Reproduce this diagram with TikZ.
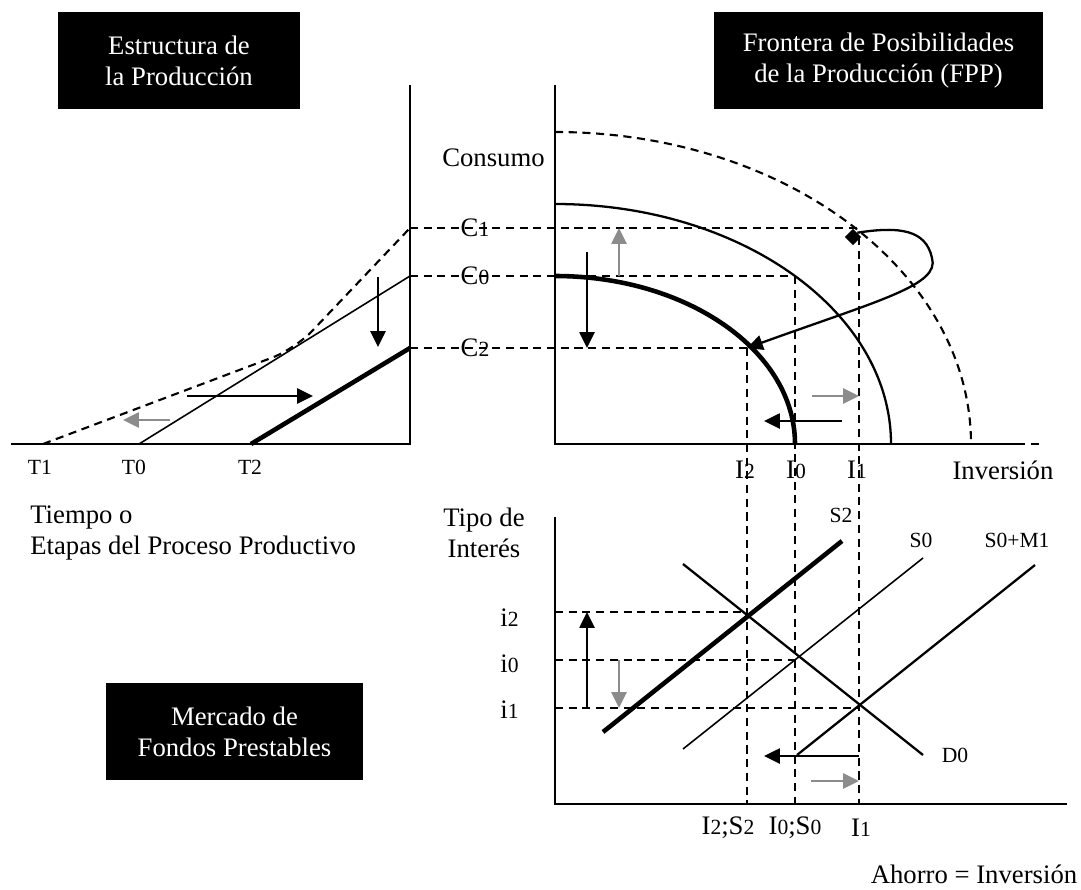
\documentclass[tikz,border=0pt]{standalone}
\usepackage{fontspec}
\setmainfont{Liberation Serif}
\usetikzlibrary{calc}
\usetikzlibrary{arrows.meta}
\definecolor{grisflecha}{RGB}{140,140,140}
\newcommand\grande{\fontsize{15.2}{17.5}\selectfont}
\newcommand\chica{\fontsize{12.3}{14}\selectfont}
\newcommand\dig[1]{{\chica #1}}
\tikzset{
  eje/.style={line width=1.3pt},
  guia/.style={line width=1.2pt,dash pattern=on 4.6pt off 3.2pt},
  fina/.style={line width=0.9pt},
  gruesa/.style={line width=2.6pt},
  flecha/.style={line width=1.3pt,-{Triangle[length=9pt,width=8.5pt]}},
  flechagris/.style={flecha,draw=grisflecha,fill=grisflecha},
  titulo/.style={fill=black,text=white,align=center,font=\grande,inner sep=0,
    minimum height=97*0.02cm},
  etq/.style={font=\grande,inner sep=0},
  etqc/.style={font=\chica,inner sep=0}
}

\begin{document}
\begin{tikzpicture}[x=0.02cm,y=-0.02cm]
\useasboundingbox (0,0) rectangle (1081,889);

\coordinate (LO) at (410,444);
\coordinate (LT) at (410,85);
\coordinate (LX) at (11,444);
\coordinate (T1) at (43,444);
\coordinate (T0) at (139,444);
\coordinate (T2) at (251,444);
\coordinate (K) at (295,349);
\coordinate (C1) at (410,228);
\coordinate (C0) at (410,276);
\coordinate (C2) at (410,348);

\coordinate (RO) at (555,444);
\coordinate (RT) at (555,85);
\coordinate (RX) at (1017,444);
\coordinate (RXe) at (1043,444);
\coordinate (I2) at (747,348);
\coordinate (I0) at (795,276);
\coordinate (I1) at (859,237);

\coordinate (BO) at (555,804);
\coordinate (BT) at (555,517);
\coordinate (BX) at (1067,804);
\coordinate (i2) at (555,612);
\coordinate (i0) at (555,660);
\coordinate (i1) at (555,708);

\node[titulo,minimum width=242*0.02cm] (estr) at (179,60.5) {Estructura de\\la Producci\'on};
\node[titulo,minimum width=329*0.02cm] (fpp) at (878.5,60.5) {Frontera de Posibilidades\\de la Producci\'on (FPP)};
\node[titulo,minimum width=257*0.02cm] (merc) at (234.5,731.5) {Mercado de\\Fondos Prestables};

% estructura de la produccion
\draw[eje] (LT) -- (LO) -- (LX);
\draw[guia] (T1) [rounded corners=14pt] -- (K) -- (C1);
\draw[fina] (T0) -- (C0);
\draw[gruesa] (T2) -- (C2);
\draw[flecha] (378,277) -- (378,347);
\draw[flecha] (187,396) -- (313,396);
\draw[flechagris] (170,420) -- (123,420);

\node[etqc] (lT1) at (40,467) {T1};
\node[etqc] (lT0) at (134,467) {T0};
\node[etqc] (lT2) at (250,467) {T2};
\node[etq,anchor=west,align=left] (tiempo) at (30,533) {Tiempo o\\Etapas del Proceso Productivo};

% frontera
\draw[eje] (RT) -- (RO) -- (RX);
\draw[guia] (RX) -- (RXe);
\draw[guia] (555,132) arc[start angle=-90,end angle=0,x radius=416,y radius=312];
\draw[eje] (555,204) arc[start angle=-90,end angle=0,x radius=336,y radius=240];
\draw[gruesa] (555,276) arc[start angle=-90,end angle=0,x radius=240,y radius=168];

\draw[guia] (C1) -- (I1 |- C1);
\draw[guia] (C0) -- (I0);
\draw[guia] (C2) -- (I2);
\draw[guia] (I2) -- (I2 |- BO);
\draw[guia] (I0) -- (I0 |- BO);
\draw[guia] (I1) -- (I1 |- BO);

\node[fill,rotate=45,minimum size=6.5pt,inner sep=0] (P1) at (853,237) {};
\draw[flecha] (P1.east) .. controls (900,226) and (926,230) .. (932,258)
  .. controls (940,285) and (880,300) .. (I2);

\draw[flechagris] (619,276) -- (619,228);
\draw[flecha] (587,252) -- (587,348);
\draw[flecha] (842,421) -- (764,421);
\draw[flechagris] (812,396) -- (859,396);

\node[etq] (cons) at (545,158) [anchor=east] {Consumo};
\node[etq] (lC1) at (475,228) {C\dig1};
\node[etq] (lC0) at (475,276) {C\dig0};
\node[etq] (lC2) at (475,348) {C\dig2};
\node[etq] (lI2) at (745,470) {I\dig2};
\node[etq] (lI0) at (796,470) {I\dig0};
\node[etq] (lI1) at (857,470) {I\dig1};
\node[etq] (inv) at (1003,470) {Inversi\'on};

% mercado de fondos prestables
\draw[eje] (BT) -- (BO) -- (BX);
\draw[guia] (i2) -- (I2 |- i2);
\draw[guia] (i0) -- (I0 |- i0);
\draw[guia] (i1) -- (I1 |- i1);

\draw[gruesa] (603,732) -- (842,541);
\draw[fina] (683,749) -- (923,558);
\draw[eje] (797,755) -- (1035,565);
\draw[eje] (683,564) -- (923,755);

\draw[flecha] (587,708) -- (587,612);
\draw[flechagris] (619,660) -- (619,708);
\draw[flecha] (859,756) -- (764,756);
\draw[flechagris] (811,781) -- (859,781);

\node[etq,align=center] (tipo) at (484,533) {Tipo de\\Inter\'es};
\node[etq,anchor=east] (li2) at (519,618) {i\dig2};
\node[etq,anchor=east] (li0) at (519,664) {i\dig0};
\node[etq,anchor=east] (li1) at (519,710) {i\dig1};
\node[etqc] (lS2) at (841,515) {S2};
\node[etqc] (lS0) at (921,540) {S0};
\node[etqc] (lSM) at (1017,540) {S0+M1};
\node[etqc] (lD0) at (955,755) {D0};
\node[etq] (bI2) at (728,828) {I\dig2;S\dig2};
\node[etq] (bI0) at (795,828) {I\dig0;S\dig0};
\node[etq] (bI1) at (861,828) {I\dig1};
\node[etq] (ahorro) at (974,874) {Ahorro = Inversi\'on};

\end{tikzpicture}
\end{document}
